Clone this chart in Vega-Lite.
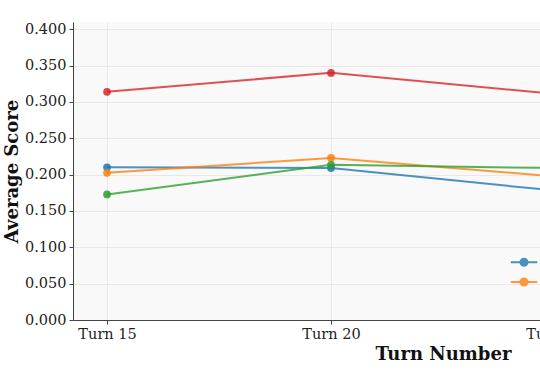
{
  "$schema": "https://vega.github.io/schema/vega-lite/v6.json",
  "width": 740,
  "height": 298,
  "autosize": "none",
  "padding": {"left": 73, "top": 22, "right": 20, "bottom": 52},
  "background": "white",
  "config": {
    "font": "DejaVu Serif",
    "view": {"fill": "#f9f9f9", "stroke": null},
    "axis": {
      "labelFont": "DejaVu Serif",
      "labelFontSize": 14.5,
      "labelColor": "#222222",
      "titleFont": "DejaVu Serif",
      "titleFontSize": 18,
      "titleFontWeight": "bold",
      "titleColor": "#111111",
      "gridColor": "#e3e3e3",
      "gridWidth": 0.8,
      "domainColor": "#444444",
      "domainWidth": 1,
      "tickColor": "#444444",
      "tickSize": 4,
      "labelPadding": 3
    }
  },
  "data": {
    "values": [
      {"turn": "Turn 15", "series": "Claude-3.5-Sonnet", "score": 0.210},
      {"turn": "Turn 20", "series": "Claude-3.5-Sonnet", "score": 0.209},
      {"turn": "Turn 25", "series": "Claude-3.5-Sonnet", "score": 0.178},
      {"turn": "Turn 30", "series": "Claude-3.5-Sonnet", "score": 0.190},
      {"turn": "Turn 15", "series": "GPT-4o", "score": 0.2025},
      {"turn": "Turn 20", "series": "GPT-4o", "score": 0.223},
      {"turn": "Turn 25", "series": "GPT-4o", "score": 0.1975},
      {"turn": "Turn 30", "series": "GPT-4o", "score": 0.205},
      {"turn": "Turn 15", "series": "Llama-3.1-70B", "score": 0.1727},
      {"turn": "Turn 20", "series": "Llama-3.1-70B", "score": 0.2135},
      {"turn": "Turn 25", "series": "Llama-3.1-70B", "score": 0.209},
      {"turn": "Turn 30", "series": "Llama-3.1-70B", "score": 0.200},
      {"turn": "Turn 15", "series": "Qwen2.5-72B", "score": 0.314},
      {"turn": "Turn 20", "series": "Qwen2.5-72B", "score": 0.340},
      {"turn": "Turn 25", "series": "Qwen2.5-72B", "score": 0.311},
      {"turn": "Turn 30", "series": "Qwen2.5-72B", "score": 0.320}
    ]
  },
  "encoding": {
    "x": {
      "field": "turn",
      "type": "ordinal",
      "sort": ["Turn 15", "Turn 20", "Turn 25", "Turn 30"],
      "scale": {"type": "point", "padding": 0.152},
      "axis": {"labelAngle": 0, "grid": true, "title": "Turn Number", "titlePadding": 5}
    },
    "y": {
      "field": "score",
      "type": "quantitative",
      "scale": {"domain": [0, 0.41], "nice": false},
      "axis": {
        "values": [0, 0.05, 0.1, 0.15, 0.2, 0.25, 0.3, 0.35, 0.4],
        "format": ".3f",
        "title": "Average Score",
        "titlePadding": 3
      }
    },
    "color": {
      "field": "series",
      "type": "nominal",
      "scale": {
        "domain": ["Claude-3.5-Sonnet", "GPT-4o", "Llama-3.1-70B", "Qwen2.5-72B"],
        "range": ["#1f77b4", "#ff7f0e", "#2ca02c", "#d62728"]
      },
      "legend": {
        "orient": "none",
        "legendX": 443,
        "legendY": 232,
        "columns": 2,
        "title": null,
        "symbolType": "M-2,0L2,0M-0.53,0A0.53,0.53,0,1,0,0.53,0A0.53,0.53,0,1,0,-0.53,0Z",
        "symbolSize": 175,
        "symbolStrokeWidth": 2,
        "symbolOpacity": 0.8,
        "labelFontSize": 14,
        "rowPadding": 4,
        "columnPadding": 20,
        "labelOffset": 22
      }
    }
  },
  "layer": [
    {"mark": {"type": "line", "strokeWidth": 2, "opacity": 0.8}},
    {"mark": {"type": "point", "filled": true, "size": 60, "opacity": 0.85}}
  ]
}
